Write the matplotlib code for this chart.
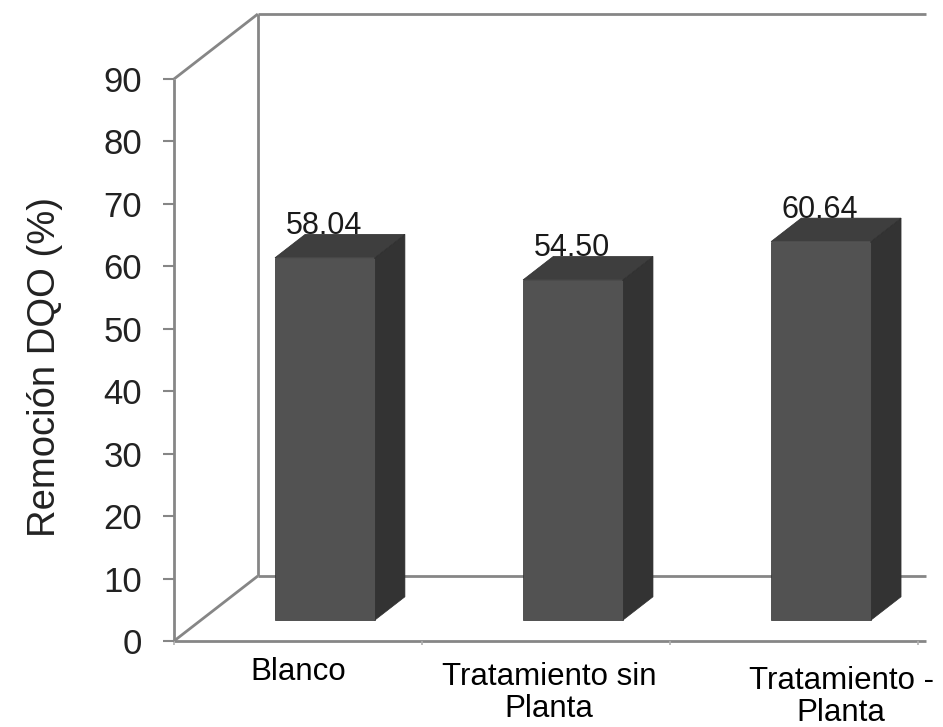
import matplotlib
matplotlib.use("Agg")
import matplotlib.pyplot as plt
from matplotlib.patches import Polygon
from matplotlib import font_manager

# --- data -------------------------------------------------------------
categories = ["Blanco", "Tratamiento sin\nPlanta", "Tratamiento -\nPlanta"]
removal = [58.04, 54.50, 60.64]
y_ticks = [0, 10, 20, 30, 40, 50, 60, 70, 80, 90]
y_label = "Remoción DQO (%)"

# --- 3-D look (oblique projection of the chart's depth) ----------------
DEPTH_X = 0.338      # horizontal shift of the back wall, category units
DEPTH_Y = 10.41      # vertical shift of the back wall, value units
BAR_D0, BAR_D1 = 0.32, 0.68   # front / back depth of each column
BAR_W = 0.402
X_LEFT, X_RIGHT = -0.5, 2.53
Y_TOP = 90

FACE = "#525252"
TOP = "#3e3e3e"
SIDE = "#333333"
WALL = "#868686"

installed = {f.name for f in font_manager.fontManager.ttflist}
BASE_FONT = "Liberation Sans"
NARROW_FONT = "Liberation Sans Narrow" if "Liberation Sans Narrow" in installed else None

plt.rcParams["font.family"] = [BASE_FONT, "DejaVu Sans"]


def proj(x, y, d):
    return (x + d * DEPTH_X, y + d * DEPTH_Y)


fig = plt.figure(figsize=(9.43, 7.27), dpi=100)
W, H = 943, 727
ax = fig.add_axes([174 / W, (H - 641) / H, (W - 174) / W, (641 - 79) / H])
ax.set_xlim(-0.5, 2.6)
ax.set_ylim(0, 90)
for s in ax.spines.values():
    s.set_visible(False)

lw = 2.0
kw = dict(color=WALL, lw=lw, clip_on=False, zorder=1, solid_capstyle="butt")

# front floor edge and left axis
ax.plot([X_LEFT, X_RIGHT], [0, 0], **kw)
ax.plot([X_LEFT, X_LEFT], [0, Y_TOP], **kw)
# side wall diagonals
for yy in (0, Y_TOP):
    p0 = proj(X_LEFT, yy, 0)
    p1 = proj(X_LEFT, yy, 1)
    ax.plot([p0[0], p1[0]], [p0[1], p1[1]], **kw)
# back wall
bl = proj(X_LEFT, 0, 1)
tl = proj(X_LEFT, Y_TOP, 1)
ax.plot([bl[0], bl[0]], [bl[1], tl[1]], **kw)
ax.plot([tl[0], X_RIGHT], [tl[1], tl[1]], **kw)
ax.plot([bl[0], X_RIGHT], [bl[1], bl[1]], **kw)

# columns
for i, v in enumerate(removal):
    xl, xr = i - BAR_W / 2, i + BAR_W / 2
    front = [proj(xl, 0, BAR_D0), proj(xr, 0, BAR_D0),
             proj(xr, v, BAR_D0), proj(xl, v, BAR_D0)]
    top = [proj(xl, v, BAR_D0), proj(xr, v, BAR_D0),
           proj(xr, v, BAR_D1), proj(xl, v, BAR_D1)]
    side = [proj(xr, 0, BAR_D0), proj(xr, 0, BAR_D1),
            proj(xr, v, BAR_D1), proj(xr, v, BAR_D0)]
    for pts, col in ((side, SIDE), (top, TOP), (front, FACE)):
        ax.add_patch(Polygon(pts, closed=True, facecolor=col,
                             edgecolor="#2e2e2e", lw=0.5, zorder=3))
    lab_font = [NARROW_FONT, BASE_FONT] if NARROW_FONT else [BASE_FONT]
    lab_size = 25 if NARROW_FONT else 22
    ax.text(i + 0.105, v + BAR_D1 * DEPTH_Y, f"{v:.2f}", ha="center",
            va="baseline", fontsize=lab_size, family=lab_font,
            color="#1a1a1a", zorder=4)

# y axis ticks
ax.set_yticks(y_ticks)
ax.set_yticklabels([str(t) for t in y_ticks])
ax.tick_params(axis="y", direction="out", length=8, width=1.5,
               color=WALL, pad=15, labelsize=25, labelcolor="#222222")

# category ticks on the floor edge
ax.set_xticks([-0.5, 0.5, 1.5, 2.5])
ax.set_xticklabels([])
ax.tick_params(axis="x", direction="out", length=3, width=1.2, color="#b0b0b0")

# category labels
label_dx = [0.0, 0.012, 0.19]
label_dy = [-16, -21, -25]   # pixels below the floor edge
for i, name in enumerate(categories):
    ax.annotate(name, xy=(i + label_dx[i], 0), xycoords="data",
                xytext=(0, label_dy[i] * 72 / 100), textcoords="offset points",
                ha="center", va="top", fontsize=22.5, linespacing=1.1,
                color="black", annotation_clip=False)

fig.text(45 / W, 1 - 367 / H, y_label, rotation=90, ha="center",
         va="center", fontsize=27.5, color="#222222")

fig.savefig("out.png", dpi=100, facecolor="white")
